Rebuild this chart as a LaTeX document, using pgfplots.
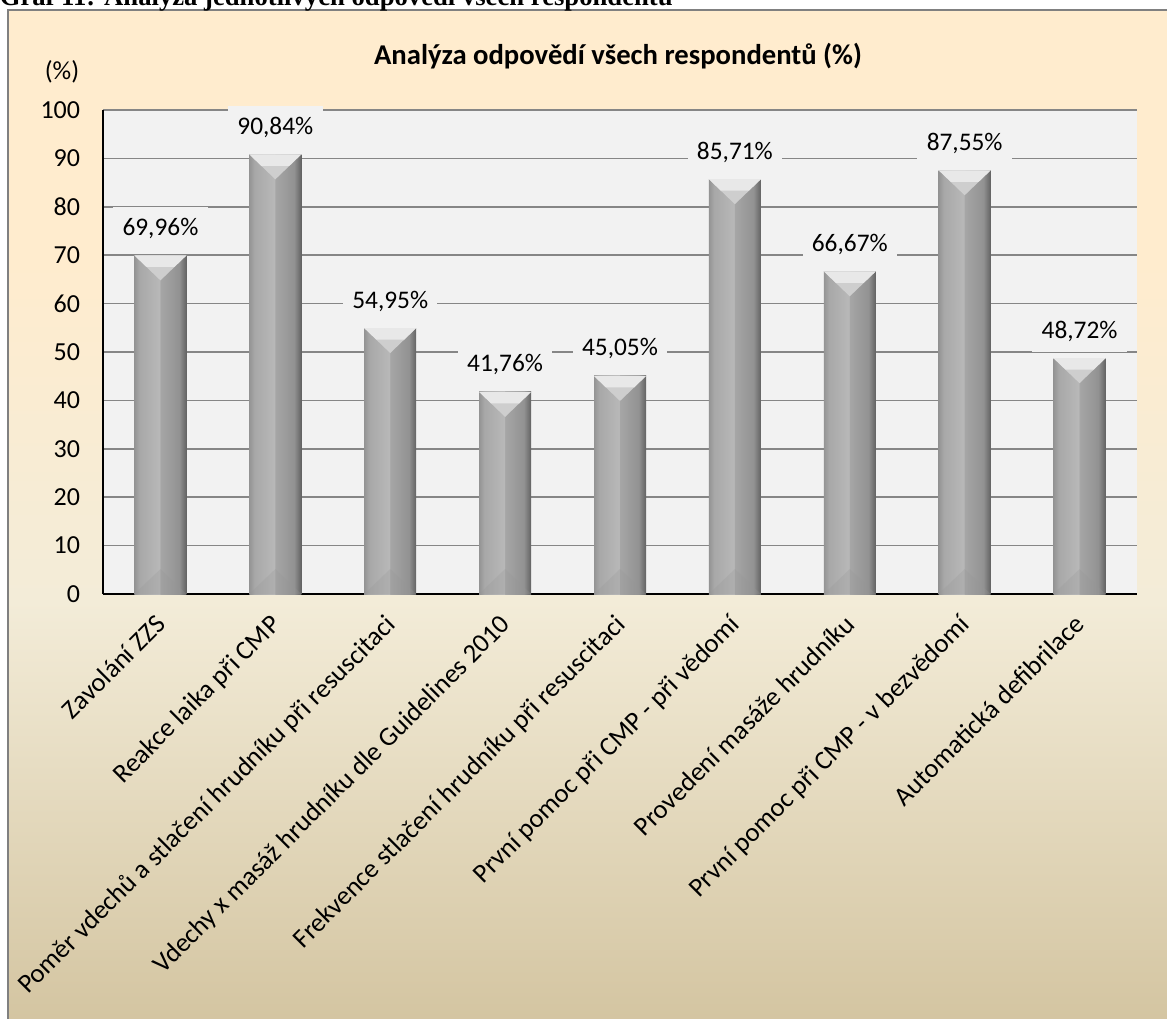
\documentclass[border=0pt]{standalone}
\usepackage{pgfplots}
\pgfplotsset{compat=1.18}
\usepackage{fontspec}
\setmainfont{Carlito}
\newfontfamily\headfont{Liberation Serif}
\definecolor{peach}{RGB}{255,236,206}
\definecolor{cream}{RGB}{243,236,216}
\definecolor{tanc}{RGB}{211,196,160}
\definecolor{plotbg}{RGB}{242,242,242}
\definecolor{gridc}{RGB}{134,134,134}
\definecolor{framec}{RGB}{128,128,128}
\definecolor{b1}{RGB}{148,148,148}
\definecolor{b2}{RGB}{168,168,168}
\definecolor{b3}{RGB}{184,184,184}
\definecolor{b4}{RGB}{166,166,166}
\definecolor{b5}{RGB}{146,146,146}
\definecolor{b6}{RGB}{98,98,98}
\definecolor{capc}{RGB}{206,206,206}
\definecolor{capl}{RGB}{232,232,232}
\definecolor{basec}{RGB}{150,150,150}
\pgfdeclareverticalshading{bgshade}{100bp}{color(0bp)=(tanc); color(25bp)=(tanc); color(46bp)=(cream); color(63bp)=(peach); color(75bp)=(peach); color(100bp)=(peach)}
\pgfdeclarehorizontalshading{barsh}{100bp}{color(0bp)=(b1); color(25bp)=(b1); color(30bp)=(b2); color(49bp)=(b3); color(50bp)=(b4); color(68bp)=(b5); color(75bp)=(b6); color(100bp)=(b6)}
\pgfdeclareplotmark{capdown}{%
  \pgfsetfillcolor{capc}%
  \pgfpathmoveto{\pgfqpoint{-19.5pt}{0pt}}%
  \pgfpathlineto{\pgfqpoint{19.5pt}{0pt}}%
  \pgfpathlineto{\pgfqpoint{0pt}{-18.75pt}}%
  \pgfpathclose
  \pgfusepath{fill}%
  \pgfsetfillcolor{capl}%
  \pgfpathmoveto{\pgfqpoint{-19.5pt}{0pt}}%
  \pgfpathlineto{\pgfqpoint{19.5pt}{0pt}}%
  \pgfpathlineto{\pgfqpoint{10.5pt}{-8.65pt}}%
  \pgfpathlineto{\pgfqpoint{-10.5pt}{-8.65pt}}%
  \pgfpathclose
  \pgfusepath{fill}}
\pgfdeclareplotmark{capup}{%
  \pgfpathmoveto{\pgfqpoint{-19.5pt}{0pt}}%
  \pgfpathlineto{\pgfqpoint{19.5pt}{0pt}}%
  \pgfpathlineto{\pgfqpoint{0pt}{18.75pt}}%
  \pgfpathclose
  \pgfusepath{fill}}
\pgfplotsset{
  mybar/.style={ybar, bar width=39pt, bar shift=0pt, draw=none, shading=barsh,
    mark=capdown,
    nodes near coords={\pgfmathprintnumber[fixed,fixed zerofill,precision=2,use comma]{\pgfplotspointmeta}\%},
    every node near coord/.style={font=\fontsize{19}{22}\selectfont, fill=plotbg, anchor=center, yshift=20.25pt, inner xsep=7pt, inner ysep=8pt, text=black}},
}
\begin{document}
\begin{tikzpicture}
\begin{scope}
\clip (0,0) rectangle (875.25pt,763.5pt);
\fill[white] (0,0) rectangle (875.25pt,763.5pt);
\begin{scope}[x=0.75pt,y=0.75pt]
 \shade[shading=bgshade] (8,-12) rectangle (1190,1008);
 \draw[framec,line width=1.5pt] (8,-20) -- (8,1008) -- (1190,1008);
 \node[font=\headfont\bfseries\fontsize{20}{24}\selectfont, anchor=base west, inner sep=0pt] at (-0.5,1012) {Graf 11: Analýza jednotlivých odpovědí všech respondentů};
 \node[font=\bfseries\fontsize{21.5}{25}\selectfont, anchor=base] at (618,953) {Analýza odpovědí všech respondentů (\%)};
 \node[font=\fontsize{19.5}{22}\selectfont] at (62,946) {(\%)};
\end{scope}
\begin{axis}[
  at={(77.25pt,318pt)}, anchor=south west,
  scale only axis, width=775.5pt, height=363pt,
  xmin=-0.5, xmax=8.5, ymin=0, ymax=100,
  axis background/.style={fill=plotbg},
  axis x line*=bottom, axis y line*=left,
  axis line style={black, line width=2.2pt},
  ytick={0,10,...,100}, ymajorgrids,
  grid style={gridc, line width=1.1pt},
  major tick length=0pt,
  xtick={0,...,8},
  xticklabels={Zavolání ZZS, Reakce laika při CMP, Poměr vdechů a stlačení hrudníku při resuscitaci, Vdechy x masáž hrudníku dle Guidelines 2010, Frekvence stlačení hrudníku při resuscitaci, První pomoc při CMP - při vědomí, Provedení masáže hrudníku, První pomoc při CMP - v bezvědomí, Automatická defibrilace},
  yticklabel style={font=\fontsize{19.5}{22}\selectfont, anchor=east, inner sep=0pt, xshift=-17pt},
  xticklabel style={font=\fontsize{20}{23}\selectfont, xshift=-5pt, yshift=-14pt, rotate=45, anchor=north east, inner sep=0pt},
  /pgf/number format/assume math mode=true,
  clip=false,
]
\addplot[mybar] coordinates {(0,69.96)};
\addplot[mybar] coordinates {(1,90.84)};
\addplot[mybar] coordinates {(2,54.95)};
\addplot[mybar] coordinates {(3,41.76)};
\addplot[mybar] coordinates {(4,45.05)};
\addplot[mybar] coordinates {(5,85.71)};
\addplot[mybar] coordinates {(6,66.67)};
\addplot[mybar] coordinates {(7,87.55)};
\addplot[mybar] coordinates {(8,48.72)};
\addplot[only marks, mark=capup, mark options={fill=basec, draw=none, opacity=0.25}] coordinates {(0,0) (1,0) (2,0) (3,0) (4,0) (5,0) (6,0) (7,0) (8,0)};
\end{axis}
\end{scope}
\pgfresetboundingbox
\useasboundingbox (0,0) rectangle (875.25pt,763.5pt);
\end{tikzpicture}
\end{document}
